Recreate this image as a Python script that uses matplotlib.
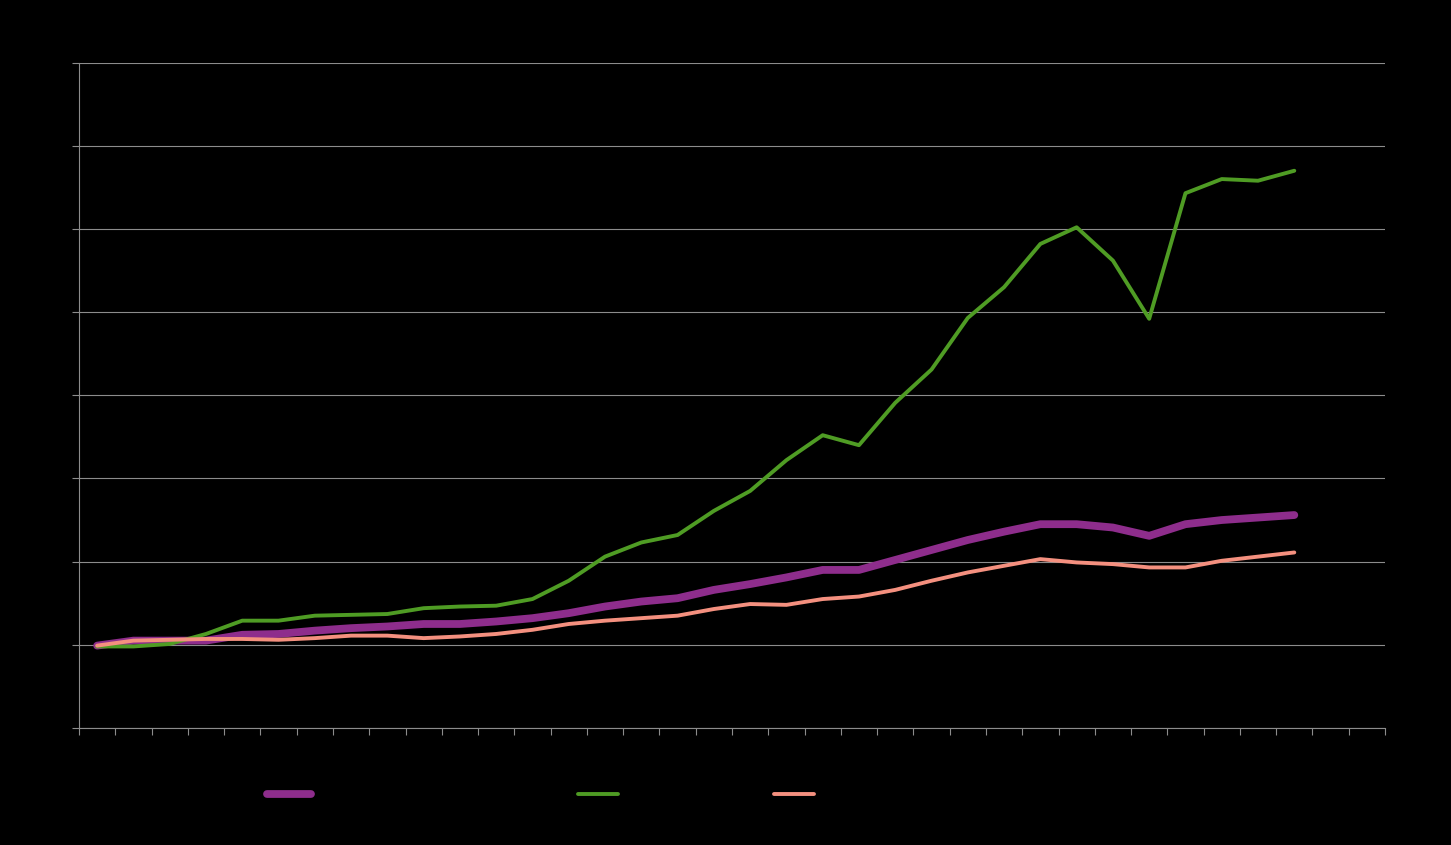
import matplotlib.pyplot as plt
import numpy as np

# index values (start = 100)
purple = [99, 105, 105, 105, 112, 113, 117, 120, 122, 125, 125, 128, 132, 138,
          146, 152, 156, 166, 173, 181, 190, 190, 202, 214, 226, 236, 245, 245,
          241, 231, 245, 250, 253, 256]
green = [98, 98, 101, 113, 129, 129, 135, 136, 137, 144, 146, 147, 155, 177,
         206, 223, 232, 261, 285, 322, 352, 340, 391, 431, 493, 530, 582, 602,
         562, 492, 643, 660, 658, 670]
salmon = [99, 105, 106, 107, 107, 106, 108, 111, 111, 108, 110, 113, 118, 125,
          129, 132, 135, 143, 149, 148, 155, 158, 166, 177, 187, 195, 203, 199,
          197, 193, 193, 201, 206, 211]
names = ["Series 1", "Series 2", "Series 3"]
n_cats = 36

W, H = 1451, 845
fig = plt.figure(figsize=(W / 100, H / 100 + 0.004), dpi=100, facecolor="black")
ax = fig.add_axes([79 / W, 1 - 728 / H, (1385 - 79) / W, (728 - 63) / H])
ax.set_facecolor("black")

x = np.arange(len(purple))
l1, = ax.plot(x, purple, color="#8E2D8C", lw=5.6, solid_capstyle="round",
              solid_joinstyle="round", zorder=3)
l2, = ax.plot(x, green, color="#4F9C24", lw=2.8, solid_capstyle="round",
              solid_joinstyle="round", zorder=4)
l3, = ax.plot(x, salmon, color="#F4907F", lw=2.8, solid_capstyle="round",
              solid_joinstyle="round", zorder=5)

ax.set_xlim(-0.5, n_cats - 0.5)
ax.set_ylim(0, 800)
ax.set_yticks(np.arange(0, 801, 100))
ax.set_xticks(np.arange(n_cats + 1) - 0.5)
ax.grid(axis="y", color="#8c8c8c", lw=0.8, zorder=1)
ax.tick_params(colors="#8c8c8c", length=5, width=0.8,
               labelleft=False, labelbottom=False)
for s in ["top", "right"]:
    ax.spines[s].set_visible(False)
for s in ["left", "bottom"]:
    ax.spines[s].set_color("#8c8c8c")
    ax.spines[s].set_linewidth(0.8)

# legend, text is black on black like the original
for line, name, x0, hl in [(l1, names[0], 267, 2.65), (l2, names[1], 578, 2.4),
                           (l3, names[2], 774, 2.4)]:
    fig.legend(handles=[line], labels=[name], loc="center left",
               bbox_to_anchor=(x0 / W, 1 - 795 / H), frameon=False,
               borderpad=0, borderaxespad=0, handlelength=hl, fontsize=12,
               labelcolor="black")

fig.savefig("out.png", dpi=100, facecolor="black")
